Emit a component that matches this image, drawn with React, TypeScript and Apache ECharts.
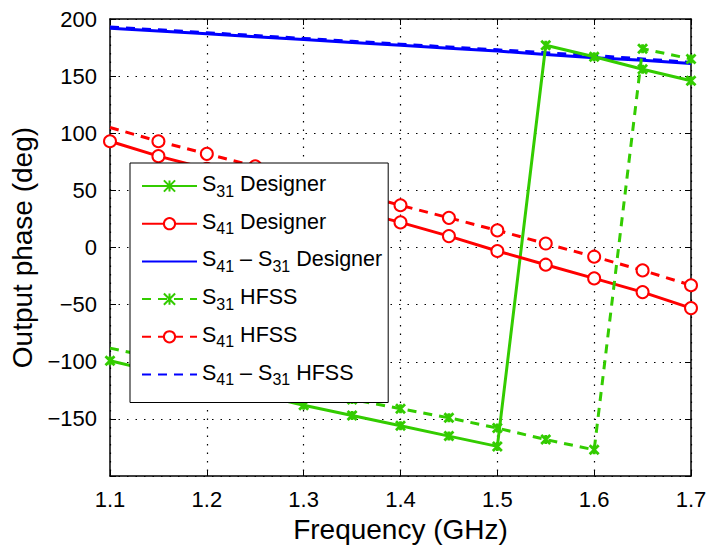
import React, { useEffect, useRef } from "react";
import * as echarts from "echarts";

const freqDesigner = [1.1, 1.15, 1.2, 1.25, 1.3, 1.35, 1.4, 1.45, 1.5, 1.55, 1.6, 1.65, 1.7];
const freqHFSS = [1.1, 1.15, 1.2, 1.25, 1.3, 1.35, 1.4, 1.45, 1.5, 1.55, 1.6, 1.65, 1.7];

const s31Designer = [-99, -109, -118, -128, -138, -147, -156, -165, -174, 177, 167, 156, 146];
const s41Designer = [93, 80, 69, 57, 45, 33, 22, 10, -3, -15, -27, -39, -53];
const diffDesigner = [192, 189.5, 187, 184.5, 182, 179.5, 177, 174.5, 172, 169, 166, 164, 161];

const s31HFSS = [-88, -97, -106, -116, -125, -133, -141, -149, -158, -168, -177, 174, 165];
const s41HFSS = [105, 93, 82, 71, 59, 48, 37, 26, 15, 3.5, -8, -20, -33];
const diffHFSS = [193, 190.5, 188, 185.5, 183, 180.5, 178, 175.5, 173, 170.5, 168, 165, 162];

const xTicks = [1.1, 1.2, 1.3, 1.4, 1.5, 1.6, 1.7];
const yTicks = [-200, -150, -100, -50, 0, 50, 100, 150, 200];

const GREEN = "#33cc00";
const RED = "#ff0000";
const BLUE = "#0000ff";
const FONT = "'Liberation Sans', Arial, Helvetica, sans-serif";
const X_SYMBOL = "path://M0,0L10,10M10,0L0,10M5,0L5,10";

const names = {
  s31d: "S31 Designer",
  s41d: "S41 Designer",
  diffd: "S41 – S31 Designer",
  s31h: "S31 HFSS",
  s41h: "S41 HFSS",
  diffh: "S41 – S31 HFSS",
};

const legendRich: Record<string, string> = {
  [names.s31d]: "{t|S}{sub|31}{t| Designer}",
  [names.s41d]: "{t|S}{sub|41}{t| Designer}",
  [names.diffd]: "{t|S}{sub|41}{t| – S}{sub|31}{t| Designer}",
  [names.s31h]: "{t|S}{sub|31}{t| HFSS}",
  [names.s41h]: "{t|S}{sub|41}{t| HFSS}",
  [names.diffh]: "{t|S}{sub|41}{t| – S}{sub|31}{t| HFSS}",
};

// HFSS curves continue past the left edge: no marker drawn at the first sample
function pairs(xs: number[], ys: number[], hideFirstMarker = false) {
  return xs.map((x, i) =>
    hideFirstMarker && i === 0 ? { value: [x, ys[i]], symbol: "none" } : [x, ys[i]]
  );
}

export default function App() {
  const ref = useRef<HTMLDivElement>(null);
  useEffect(() => {
    if (!ref.current) return;
    const chart = echarts.init(ref.current, null, { renderer: "svg" });
    const axisLine = { show: true, onZero: false, lineStyle: { color: "#000", width: 1.5 } };
    const tick = { show: true, inside: true, length: 6, lineStyle: { color: "#000", width: 1 } };
    const gridLine = { show: true, lineStyle: { color: "#000", type: [1.5, 7], width: 1.2 } };
    const hiddenSym = { color: "rgba(0,0,0,0)", borderColor: "rgba(0,0,0,0)", borderWidth: 0 };
    const option: any = {
      animation: false,
      backgroundColor: "#fff",
      grid: { left: 110, right: 19, top: 19, bottom: 69, containLabel: false },
      xAxis: [
        {
          type: "value",
          min: 1.1,
          max: 1.7,
          interval: 0.1,
          name: "Frequency (GHz)",
          nameLocation: "middle",
          nameGap: 30,
          nameTextStyle: { fontFamily: FONT, fontSize: 28, color: "#000" },
          axisLine,
          axisTick: tick,
          splitLine: gridLine,
          axisLabel: {
            fontFamily: FONT,
            fontSize: 22,
            color: "#000",
            margin: 12,
            formatter: (v: number) => {
              const t = xTicks.find((k) => Math.abs(k - v) < 1e-6);
              return t !== undefined ? t.toFixed(1) : "";
            },
          },
        },
        {
          type: "value",
          position: "top",
          min: 1.1,
          max: 1.7,
          interval: 0.1,
          axisLine,
          axisTick: tick,
          axisLabel: { show: false },
          splitLine: { show: false },
        },
      ],
      yAxis: [
        {
          type: "value",
          min: -200,
          max: 200,
          interval: 50,
          name: "Output phase (deg)",
          nameLocation: "middle",
          nameGap: 67,
          nameTextStyle: { fontFamily: FONT, fontSize: 28, color: "#000" },
          axisLine,
          axisTick: tick,
          splitLine: gridLine,
          axisLabel: {
            fontFamily: FONT,
            fontSize: 22,
            color: "#000",
            margin: 13,
            formatter: (v: number) => {
              if (v <= -200) return "";
              const t = yTicks.find((k) => Math.abs(k - v) < 1e-6);
              return t !== undefined ? (t < 0 ? "−" + Math.abs(t) : String(t)) : "";
            },
          },
        },
        {
          type: "value",
          position: "right",
          min: -200,
          max: 200,
          interval: 50,
          axisLine,
          axisTick: tick,
          axisLabel: { show: false },
          splitLine: { show: false },
        },
      ],
      legend: {
        orient: "vertical",
        left: 130,
        top: 163,
        backgroundColor: "#fff",
        borderColor: "#000",
        borderWidth: 1,
        borderRadius: 0,
        padding: [10, 6, 15, 11],
        itemGap: 11.7,
        itemWidth: 55,
        itemHeight: 14,
        data: [
          names.s31d,
          names.s41d,
          { name: names.diffd, itemStyle: hiddenSym },
          names.s31h,
          names.s41h,
          { name: names.diffh, itemStyle: hiddenSym },
        ],
        formatter: (n: string) => legendRich[n] || n,
        textStyle: {
          color: "#000",
          fontFamily: FONT,
          rich: {
            t: { fontFamily: FONT, fontSize: 21.5, color: "#000", lineHeight: 26, verticalAlign: "top" },
            sub: { fontFamily: FONT, fontSize: 16, color: "#000", lineHeight: 26, verticalAlign: "bottom", padding: [10, 0, 0, 0] },
          },
        },
      },
      series: [
        {
          name: names.s31d,
          type: "line",
          data: pairs(freqDesigner, s31Designer),
          symbol: X_SYMBOL,
          symbolSize: 9,
          lineStyle: { color: GREEN, width: 3 },
          itemStyle: { color: GREEN, borderColor: GREEN, borderWidth: 2.8 },
          z: 3,
        },
        {
          name: names.s41d,
          type: "line",
          data: pairs(freqDesigner, s41Designer),
          symbol: "emptyCircle",
          symbolSize: 12,
          lineStyle: { color: RED, width: 3 },
          itemStyle: { color: RED, borderColor: RED, borderWidth: 2.6 },
          z: 3,
        },
        {
          name: names.diffd,
          type: "line",
          data: pairs(freqDesigner, diffDesigner),
          symbol: "none",
          lineStyle: { color: BLUE, width: 3 },
          itemStyle: { color: BLUE },
          z: 2,
        },
        {
          name: names.s31h,
          type: "line",
          data: pairs(freqHFSS, s31HFSS, true),
          symbol: X_SYMBOL,
          symbolSize: 9,
          lineStyle: { color: GREEN, width: 3, type: [9, 7] },
          itemStyle: { color: GREEN, borderColor: GREEN, borderWidth: 2.8 },
          z: 3,
        },
        {
          name: names.s41h,
          type: "line",
          data: pairs(freqHFSS, s41HFSS, true),
          symbol: "emptyCircle",
          symbolSize: 12,
          lineStyle: { color: RED, width: 3, type: [9, 7] },
          itemStyle: { color: RED, borderColor: RED, borderWidth: 2.6 },
          z: 3,
        },
        {
          name: names.diffh,
          type: "line",
          data: pairs(freqHFSS, diffHFSS),
          symbol: "none",
          lineStyle: { color: BLUE, width: 3, type: [9, 7] },
          itemStyle: { color: BLUE },
          z: 2,
        },
      ],
    };
    chart.setOption(option);
    return () => chart.dispose();
  }, []);
  return (
    <div
      ref={ref}
      style={{ position: "fixed", left: 0, top: 0, width: 710, height: 548, background: "#fff" }}
    />
  );
}
